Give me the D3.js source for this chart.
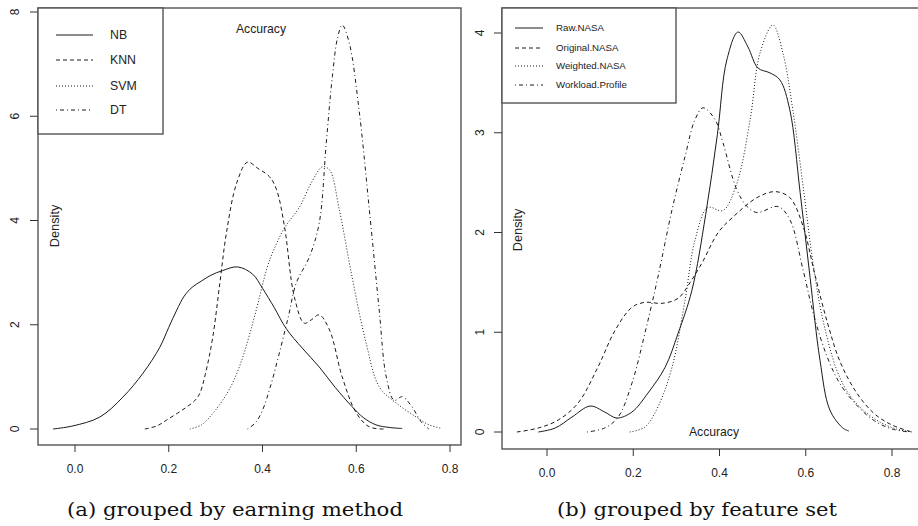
<!DOCTYPE html>
<html>
<head>
<meta charset="utf-8">
<script src="https://cdn.jsdelivr.net/npm/d3@7"></script>
<style>
  body { margin: 0; background: #fff; }
  svg { display: block; }
  .tick-label, .lab, .legend-text { font-family: "Liberation Sans", Arial, sans-serif; fill: #222; }
  .caption { font-family: "DejaVu Serif", "Liberation Serif", serif; fill: #111; }
</style>
</head>
<body>
<div id="chart"></div>
<script>
// ---- data ----
const xTicks = [0.0, 0.2, 0.4, 0.6, 0.8];
const yTicksA = [0, 2, 4, 6, 8];
const yTicksB = [0, 1, 2, 3, 4];

const methods = ["NB", "KNN", "SVM", "DT"];
const featureSets = ["Raw.NASA", "Original.NASA", "Weighted.NASA", "Workload.Profile"];

// (a) density of accuracy per learning method: [accuracy, density]
const nbCurve = [[-0.047,0],[-0.004,0.06],[0.053,0.23],[0.102,0.61],[0.145,1.07],[0.181,1.57],[0.2,1.95],[0.217,2.28],[0.233,2.55],[0.25,2.72],[0.27,2.84],[0.29,2.95],[0.315,3.04],[0.347,3.11],[0.379,2.97],[0.40,2.70],[0.425,2.33],[0.451,1.92],[0.485,1.55],[0.521,1.19],[0.555,0.80],[0.591,0.43],[0.615,0.22],[0.642,0.08],[0.67,0.03],[0.698,0.01]];
const knnCurve = [[0.149,0],[0.175,0.06],[0.195,0.17],[0.218,0.30],[0.238,0.42],[0.255,0.54],[0.266,0.68],[0.278,1.05],[0.294,1.77],[0.309,2.80],[0.323,3.76],[0.345,4.72],[0.368,5.12],[0.39,5.0],[0.415,4.84],[0.43,4.59],[0.447,3.88],[0.468,2.53],[0.489,2.03],[0.505,2.10],[0.521,2.19],[0.543,1.90],[0.570,1.0],[0.600,0.31],[0.628,0.04],[0.66,0]];
const svmCurve = [[0.245,0],[0.27,0.08],[0.294,0.30],[0.315,0.55],[0.336,0.88],[0.355,1.30],[0.372,1.80],[0.39,2.40],[0.41,3.10],[0.427,3.50],[0.447,3.86],[0.479,4.26],[0.504,4.72],[0.528,5.03],[0.543,4.97],[0.564,4.20],[0.591,2.92],[0.621,1.65],[0.649,0.81],[0.685,0.50],[0.728,0.23],[0.755,0.08],[0.783,0.01]];
const dtCurve = [[0.368,0],[0.385,0.12],[0.400,0.36],[0.418,0.85],[0.436,1.46],[0.455,2.15],[0.472,2.80],[0.5,3.30],[0.521,3.95],[0.536,5.49],[0.549,6.76],[0.560,7.50],[0.570,7.75],[0.585,7.41],[0.606,6.12],[0.628,4.20],[0.649,2.28],[0.664,1.0],[0.681,0.55],[0.698,0.62],[0.717,0.45],[0.740,0.12],[0.755,0]];

// (b) density of accuracy per feature set
const rawCurve = [[-0.02,0],[0.019,0.04],[0.058,0.15],[0.1,0.26],[0.134,0.20],[0.162,0.14],[0.197,0.20],[0.234,0.39],[0.274,0.65],[0.304,0.99],[0.336,1.42],[0.368,2.18],[0.395,2.98],[0.417,3.73],[0.443,4.01],[0.466,3.86],[0.489,3.65],[0.517,3.60],[0.54,3.53],[0.563,3.23],[0.587,2.40],[0.61,1.55],[0.633,0.72],[0.656,0.22],[0.686,0.04],[0.70,0.01]];
const originalCurve = [[-0.07,0],[-0.02,0.04],[0.026,0.12],[0.072,0.29],[0.118,0.65],[0.158,1.02],[0.197,1.25],[0.227,1.30],[0.267,1.29],[0.304,1.34],[0.332,1.50],[0.36,1.70],[0.397,2.0],[0.43,2.15],[0.487,2.35],[0.529,2.41],[0.563,2.35],[0.594,2.06],[0.62,1.60],[0.65,1.10],[0.68,0.70],[0.72,0.38],[0.76,0.18],[0.8,0.07],[0.846,0]];
const weightedCurve = [[0.192,0],[0.227,0.05],[0.257,0.25],[0.29,0.65],[0.32,1.32],[0.343,1.92],[0.373,2.25],[0.408,2.22],[0.44,2.49],[0.471,3.13],[0.494,3.80],[0.524,4.08],[0.547,3.80],[0.57,3.23],[0.594,2.46],[0.617,1.69],[0.64,1.12],[0.672,0.62],[0.70,0.38],[0.733,0.22],[0.772,0.10],[0.81,0.03],[0.846,0]];
const workloadCurve = [[0.093,0],[0.134,0.04],[0.165,0.15],[0.197,0.49],[0.227,0.99],[0.257,1.55],[0.29,2.23],[0.32,2.76],[0.343,3.13],[0.362,3.25],[0.39,3.13],[0.408,2.90],[0.44,2.43],[0.464,2.26],[0.487,2.20],[0.536,2.26],[0.563,2.13],[0.594,1.62],[0.62,1.15],[0.65,0.75],[0.68,0.48],[0.72,0.26],[0.76,0.11],[0.8,0.03],[0.84,0]];

const captions = ["(a) grouped by earning method", "(b) grouped by feature set"];

// R line types: solid, dashed, dotted, dotdash
const lineTypes = [null, "4,3", "1,2", "1,3,4,3"];

const W = 918, H = 526;

const panels = [
    {
        box: { x0: 38, x1: 461, y0: 8, y1: 445 },
        x: d3.scaleLinear().domain([0, 0.8]).range([75, 450]),
        y: d3.scaleLinear().domain([0, 8]).range([429, 12]),
        yTicks: yTicksA,
        yLabelX: 15,
        series: [nbCurve, knnCurve, svmCurve, dtCurve],
        names: methods,
        legend: { x0: 38, x1: 163, y0: 8, y1: 134, l0: 56, l1: 93, tx: 110, rows: [35, 60, 86, 110], size: 12.3 },
        title: { x: 261, y: 33 },
        density: { x: 55, y: 226 },
        caption: { x: 235, w: 336 }
    },
    {
        box: { x0: 502, x1: 940, y0: 8, y1: 449 },
        x: d3.scaleLinear().domain([0, 0.8]).range([547, 892]),
        y: d3.scaleLinear().domain([0, 4]).range([432, 33]),
        yTicks: yTicksB,
        yLabelX: 480,
        series: [rawCurve, originalCurve, weightedCurve, workloadCurve],
        names: featureSets,
        legend: { x0: 502, x1: 676, y0: 8, y1: 103, l0: 515, l1: 543, tx: 556, rows: [28, 48, 66, 85], size: 9.7 },
        title: { x: 714, y: 436 },
        density: { x: 518, y: 230 },
        caption: { x: 697, w: 280 }
    }
];

const svg = d3.select("#chart").append("svg")
    .attr("width", W)
    .attr("height", H);

svg.append("rect").attr("width", W).attr("height", H).attr("fill", "#fff");

panels.forEach((p, i) => {
    const g = svg.append("g");
    const b = p.box;

    // curves
    const line = d3.line()
        .x(d => p.x(d[0]))
        .y(d => p.y(d[1]))
        .curve(d3.curveCatmullRom.alpha(0.5));

    p.series.forEach((s, k) => {
        g.append("path")
            .attr("d", line(s))
            .attr("fill", "none")
            .attr("stroke", "#1a1a1a")
            .attr("stroke-width", 1)
            .attr("stroke-dasharray", lineTypes[k]);
    });

    // frame
    g.append("rect")
        .attr("x", b.x0).attr("y", b.y0)
        .attr("width", b.x1 - b.x0).attr("height", b.y1 - b.y0)
        .attr("fill", "none")
        .attr("stroke", "#555")
        .attr("stroke-width", 1.4);

    // x axis ticks
    xTicks.forEach(t => {
        g.append("line")
            .attr("x1", p.x(t)).attr("x2", p.x(t))
            .attr("y1", b.y1).attr("y2", b.y1 + 7)
            .attr("stroke", "#333");
        g.append("text")
            .attr("class", "tick-label")
            .attr("x", p.x(t)).attr("y", b.y1 + 28)
            .attr("text-anchor", "middle")
            .attr("font-size", 12)
            .text(d3.format(".1f")(t));
    });

    // y axis ticks (labels rotated like R's default)
    p.yTicks.forEach(t => {
        g.append("line")
            .attr("x1", b.x0 - 8).attr("x2", b.x0)
            .attr("y1", p.y(t)).attr("y2", p.y(t))
            .attr("stroke", "#333");
        g.append("text")
            .attr("class", "tick-label")
            .attr("transform", `translate(${p.yLabelX + 4},${p.y(t)}) rotate(-90)`)
            .attr("text-anchor", "middle")
            .attr("font-size", 12)
            .text(t);
    });

    // axis titles drawn inside the plot
    g.append("text")
        .attr("class", "lab")
        .attr("x", p.title.x).attr("y", p.title.y)
        .attr("text-anchor", "middle")
        .attr("font-size", 12.2)
        .text("Accuracy");

    g.append("text")
        .attr("class", "lab")
        .attr("transform", `translate(${p.density.x + 4},${p.density.y}) rotate(-90)`)
        .attr("text-anchor", "middle")
        .attr("font-size", 12.8)
        .text("Density");

    // legend
    const L = p.legend;
    g.append("rect")
        .attr("x", L.x0).attr("y", L.y0)
        .attr("width", L.x1 - L.x0).attr("height", L.y1 - L.y0)
        .attr("fill", "#fff")
        .attr("stroke", "#555")
        .attr("stroke-width", 1.4);

    p.names.forEach((name, k) => {
        g.append("line")
            .attr("x1", L.l0).attr("x2", L.l1)
            .attr("y1", L.rows[k]).attr("y2", L.rows[k])
            .attr("stroke", "#1a1a1a")
            .attr("stroke-dasharray", lineTypes[k]);
        g.append("text")
            .attr("class", "legend-text")
            .attr("x", L.tx).attr("y", L.rows[k])
            .attr("dy", "0.35em")
            .attr("font-size", L.size)
            .text(name);
    });

    // caption
    svg.append("text")
        .attr("class", "caption")
        .attr("x", p.caption.x).attr("y", 516)
        .attr("text-anchor", "middle")
        .attr("font-size", 19)
        .attr("textLength", p.caption.w)
        .attr("lengthAdjust", "spacingAndGlyphs")
        .text(captions[i]);
});
</script>
</body>
</html>
